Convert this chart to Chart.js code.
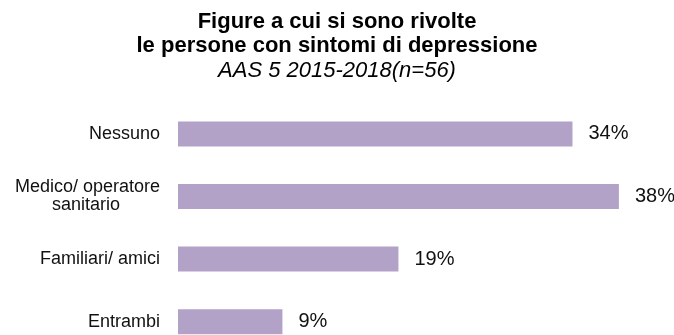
<!DOCTYPE html>
<html>
<head>
<meta charset="utf-8">
<script src="https://cdn.jsdelivr.net/npm/chart.js@4/dist/chart.umd.min.js"></script>
<style>
  html, body { margin: 0; padding: 0; overflow: hidden; background: #ffffff; }
  canvas { display: block; }
</style>
</head>
<body>
<canvas id="c" width="674" height="353"></canvas>
<script>
const titleLines = ['Figure a cui si sono rivolte', 'le persone con sintomi di depressione'];
const subtitleText = 'AAS 5 2015-2018(n=56)';
const categories = [
  'Nessuno',
  ['Medico/ operatore', 'sanitario        '],
  'Familiari/ amici',
  'Entrambi'
];
const values = [34, 38, 19, 9];
const xMin = 0;
const xMax = 42.75;

const FONT = '"Liberation Sans", Arial, Helvetica, sans-serif';

const valueLabels = {
  id: 'valueLabels',
  afterDatasetsDraw(chart) {
    const ctx = chart.ctx;
    const meta = chart.getDatasetMeta(0);
    ctx.save();
    ctx.font = '20px ' + FONT;
    ctx.fillStyle = '#111111';
    ctx.textAlign = 'left';
    ctx.textBaseline = 'middle';
    meta.data.forEach((bar, i) => {
      ctx.fillText(values[i] + '%', bar.x + 16, bar.y);
    });
    ctx.restore();
  }
};

new Chart(document.getElementById('c'), {
  type: 'bar',
  data: {
    labels: categories,
    datasets: [{
      data: values,
      backgroundColor: '#b3a2c7',
      borderWidth: 0,
      categoryPercentage: 0.8,
      barPercentage: 0.5
    }]
  },
  options: {
    indexAxis: 'y',
    responsive: false,
    animation: false,
    devicePixelRatio: 1,
    layout: { padding: { left: 0, right: 0, top: 0, bottom: 0 } },
    plugins: {
      legend: { display: false },
      tooltip: { enabled: false },
      title: {
        display: true,
        text: titleLines,
        color: '#000000',
        font: { family: FONT, size: 22, weight: 'bold', lineHeight: 1.1 },
        padding: { top: 10, bottom: 0 }
      },
      subtitle: {
        display: true,
        text: subtitleText,
        color: '#000000',
        font: { family: FONT, size: 22, style: 'italic', weight: 'normal', lineHeight: 1.1 },
        padding: { top: 0, bottom: 20 }
      }
    },
    scales: {
      x: {
        display: false,
        min: xMin,
        max: xMax
      },
      y: {
        grid: { display: false, drawTicks: false },
        border: { display: false },
        ticks: {
          color: '#111111',
          padding: 18,
          font: { family: FONT, size: 18, lineHeight: 1.0 }
        },
        afterFit(scale) {
          scale.width = 178;
          scale.paddingTop = 0;
          scale.paddingBottom = 0;
        }
      }
    }
  },
  plugins: [valueLabels]
});
</script>
</body>
</html>
